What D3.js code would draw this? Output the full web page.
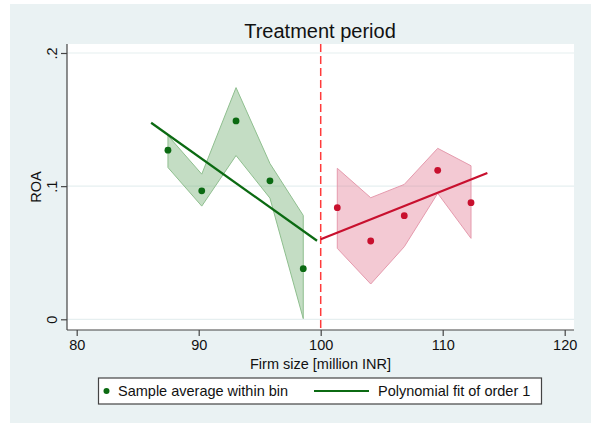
<!DOCTYPE html>
<html>
<head>
<meta charset="utf-8">
<script src="https://cdn.jsdelivr.net/npm/d3@7"></script>
<style>
  body { margin: 0; background: #fff; }
  svg text { font-family: Arial, "Liberation Sans", sans-serif; fill: #111; }
</style>
</head>
<body>
<svg id="drawing_region"></svg>
<script>
// bins left of the cutoff
const leftX  = [87.48, 90.25, 93.06, 95.84, 98.57];
const leftY  = [0.127, 0.0965, 0.149, 0.104, 0.038];
const leftHi = [0.138, 0.109, 0.174, 0.117, 0.078];
const leftLo = [0.114, 0.085, 0.123, 0.091, 0.0005];
const leftFitX = [86.1, 99.7];
const leftFitY = [0.1476, 0.059];

// bins right of the cutoff
const rightX  = [101.36, 104.1, 106.85, 109.59, 112.32];
const rightY  = [0.0838, 0.0588, 0.0778, 0.1119, 0.0876];
const rightHi = [0.1134, 0.0913, 0.1013, 0.1284, 0.1153];
const rightLo = [0.0533, 0.0265, 0.0545, 0.0946, 0.0608];
const rightFitX = [100, 113.66];
const rightFitY = [0.0601, 0.1098];

const cutoff = 100;
const xTicks = [80, 90, 100, 110, 120];
const yTicks = [0, 0.1, 0.2];
const legendLabels = ["Sample average within bin", "Polynomial fit of order 1"];

const W = 591, H = 423;
const plot = { left: 67, right: 574, top: 44, bottom: 330 };
const green = "#0b6a12", greenFill = "rgba(108,170,108,0.4)", greenEdge = "#8fbf8f";
const red = "#c8102e", redFill = "rgba(226,120,146,0.4)", redEdge = "#e59aad";

const svg = d3.select("#drawing_region").attr("width", W).attr("height", H);

svg.append("rect").attr("x", 10).attr("y", 4).attr("width", W - 10).attr("height", H - 4)
    .attr("fill", "#eaf2f3");
svg.append("rect").attr("x", plot.left).attr("y", plot.top)
    .attr("width", plot.right - plot.left).attr("height", plot.bottom - plot.top)
    .attr("fill", "#fff");

const x = d3.scaleLinear().domain([80, 120]).range([76.7, 564.7]);
const y = d3.scaleLinear().domain([0, 0.2]).range([319.3, 53]);

// grid
svg.append("g").selectAll("line").data(yTicks).join("line")
    .attr("x1", plot.left).attr("x2", plot.right)
    .attr("y1", d => y(d)).attr("y2", d => y(d))
    .attr("stroke", "#e6eff0").attr("stroke-width", 1.2);

// axes
const yAxis = svg.append("g").attr("transform", `translate(${plot.left},0)`)
    .call(d3.axisLeft(y).tickValues(yTicks).tickSize(6)
        .tickFormat(d => d === 0 ? "0" : d3.format(".1f")(d).replace(/^0/, "")));
yAxis.select(".domain").attr("d", `M0,${plot.top}V${plot.bottom}`);
yAxis.selectAll(".tick text")
    .attr("transform", "rotate(-90)")
    .attr("x", 0).attr("y", -10).attr("dy", 0)
    .attr("text-anchor", "middle")
    .attr("font-size", 14.5);

const xAxis = svg.append("g").attr("transform", `translate(0,${plot.bottom})`)
    .call(d3.axisBottom(x).tickValues(xTicks).tickSize(6));
xAxis.select(".domain").attr("d", `M${plot.left},0H${plot.right}`);
xAxis.selectAll(".tick text").attr("y", 10).attr("dy", "0.71em").attr("font-size", 14.5);

svg.selectAll(".domain, .tick line").attr("stroke", "#444").attr("stroke-width", 1.2);
svg.selectAll(".tick text").attr("fill", "#111");

// titles
svg.append("text").attr("x", 320).attr("y", 38).attr("text-anchor", "middle")
    .attr("font-size", 20).text("Treatment period");
svg.append("text").attr("x", 320.5).attr("y", 369).attr("text-anchor", "middle")
    .attr("font-size", 14.5).text("Firm size [million INR]");
svg.append("text").attr("transform", `translate(40.5,${(plot.top + plot.bottom) / 2}) rotate(-90)`)
    .attr("text-anchor", "middle").attr("font-size", 14.5).text("ROA");

// confidence bands
function band(xs, lo, hi, fill, edge) {
    const rows = xs.map((v, i) => ({ x: v, lo: lo[i], hi: hi[i] }));
    svg.append("path").datum(rows)
        .attr("d", d3.area().x(d => x(d.x)).y0(d => y(d.lo)).y1(d => y(d.hi)))
        .attr("fill", fill).attr("stroke", edge).attr("stroke-width", 1);
}
band(leftX, leftLo, leftHi, greenFill, greenEdge);
band(rightX, rightLo, rightHi, redFill, redEdge);

// cutoff line
svg.append("line").attr("x1", x(cutoff)).attr("x2", x(cutoff))
    .attr("y1", plot.top).attr("y2", plot.bottom)
    .attr("stroke", "#ff3b3b").attr("stroke-width", 1.5).attr("stroke-dasharray", "8,4");

// fit lines
function fit(xs, ys, color) {
    svg.append("path").datum(xs.map((v, i) => [v, ys[i]]))
        .attr("d", d3.line().x(d => x(d[0])).y(d => y(d[1])))
        .attr("fill", "none").attr("stroke", color).attr("stroke-width", 2.2);
}
fit(leftFitX, leftFitY, green);
fit(rightFitX, rightFitY, red);

// bin means
function dots(xs, ys, color) {
    svg.append("g").selectAll("circle").data(xs.map((v, i) => [v, ys[i]])).join("circle")
        .attr("cx", d => x(d[0])).attr("cy", d => y(d[1])).attr("r", 3.4)
        .attr("fill", color);
}
dots(leftX, leftY, green);
dots(rightX, rightY, red);

// legend
const lg = svg.append("g");
lg.append("rect").attr("x", 98.5).attr("y", 378).attr("width", 443).attr("height", 26)
    .attr("fill", "#fff").attr("stroke", "#444").attr("stroke-width", 1.2);
lg.append("circle").attr("cx", 106.5).attr("cy", 391).attr("r", 3).attr("fill", green);
lg.append("text").attr("x", 118).attr("y", 396).attr("font-size", 14.5).text(legendLabels[0]);
lg.append("line").attr("x1", 314).attr("x2", 369).attr("y1", 391).attr("y2", 391)
    .attr("stroke", green).attr("stroke-width", 2.2);
lg.append("text").attr("x", 378).attr("y", 396).attr("font-size", 14.5).text(legendLabels[1]);
</script>
</body>
</html>
